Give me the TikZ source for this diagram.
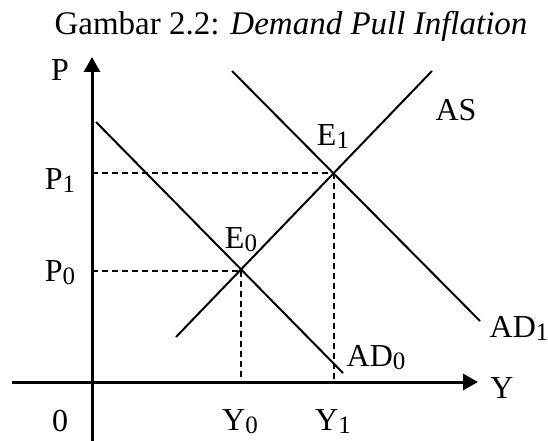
\documentclass[tikz,border=0pt]{standalone}
\usepackage{fontspec}
\setmainfont{Liberation Serif}
\usetikzlibrary{arrows.meta}
\newcommand{\lsub}[1]{\raisebox{-3pt}{\fontsize{25}{25}\selectfont #1}}
\newcommand{\titlefont}{\fontsize{33}{36}\selectfont}
\begin{document}
\begin{tikzpicture}[x=1pt,y=-1pt,
  axis/.style={line width=3pt,-{Triangle[width=16pt,length=15pt]}},
  curve/.style={line width=2pt},
  guide/.style={line width=2pt,dash pattern=on 6pt off 4pt},
  lbl/.style={inner sep=0pt,font=\fontsize{32}{34}\selectfont}]
\useasboundingbox (0,0) rectangle (548,441);
% key points
\coordinate (O) at (92,382);
\coordinate (ybot) at (92,441);
\coordinate (ytop) at (92,57);
\coordinate (xleft) at (12,382);
\coordinate (xright) at (478,382);
\coordinate (E0) at (240.5,270.5);
\coordinate (E1) at (334,173);
\coordinate (ad0a) at (96,122);
\coordinate (ad0b) at (343,373);
\coordinate (ad1a) at (232,71);
\coordinate (ad1b) at (480,321);
\coordinate (asa) at (176,337);
\coordinate (asb) at (432,71);
\coordinate (p0) at (92,270.5);
\coordinate (p1) at (92,173);
\coordinate (y0) at (240.5,382);
\coordinate (y1) at (334,382);
% title
\node[anchor=base,inner sep=0pt] (title) at (291,35) {\titlefont Gambar 2.2: \textit{Demand Pull Inflation}};
% axes
\draw[axis] (ybot) -- (ytop);
\draw[axis] (xleft) -- (xright);
% curves
\draw[curve] (ad0a) -- (ad0b);
\draw[curve] (ad1a) -- (ad1b);
\draw[curve] (asa) -- (asb);
% guides
\draw[guide] (p1) -- (E1);
\draw[guide] (E1) -- (y1);
\draw[guide] (p0) -- (E0);
\draw[guide] (E0) -- (y0);
% labels
\node[lbl] (lP) at (60,70) {P};
\node[lbl] (lP1) at (60,181) {P\lsub{1}};
\node[lbl] (lP0) at (60,273) {P\lsub{0}};
\node[lbl] (l0) at (60,421) {0};
\node[lbl] (lY0) at (240,422) {Y\lsub{0}};
\node[lbl] (lY1) at (333,422) {Y\lsub{1}};
\node[lbl] (lY) at (502,388) {Y};
\node[lbl] (lAD0) at (376,358) {AD\lsub{0}};
\node[lbl] (lAD1) at (519,328) {AD\lsub{1}};
\node[lbl] (lAS) at (456,110) {AS};
\node[lbl] (lE1) at (333,137) {E\lsub{1}};
\node[lbl] (lE0) at (241,240) {E\lsub{0}};
\end{tikzpicture}
\end{document}
